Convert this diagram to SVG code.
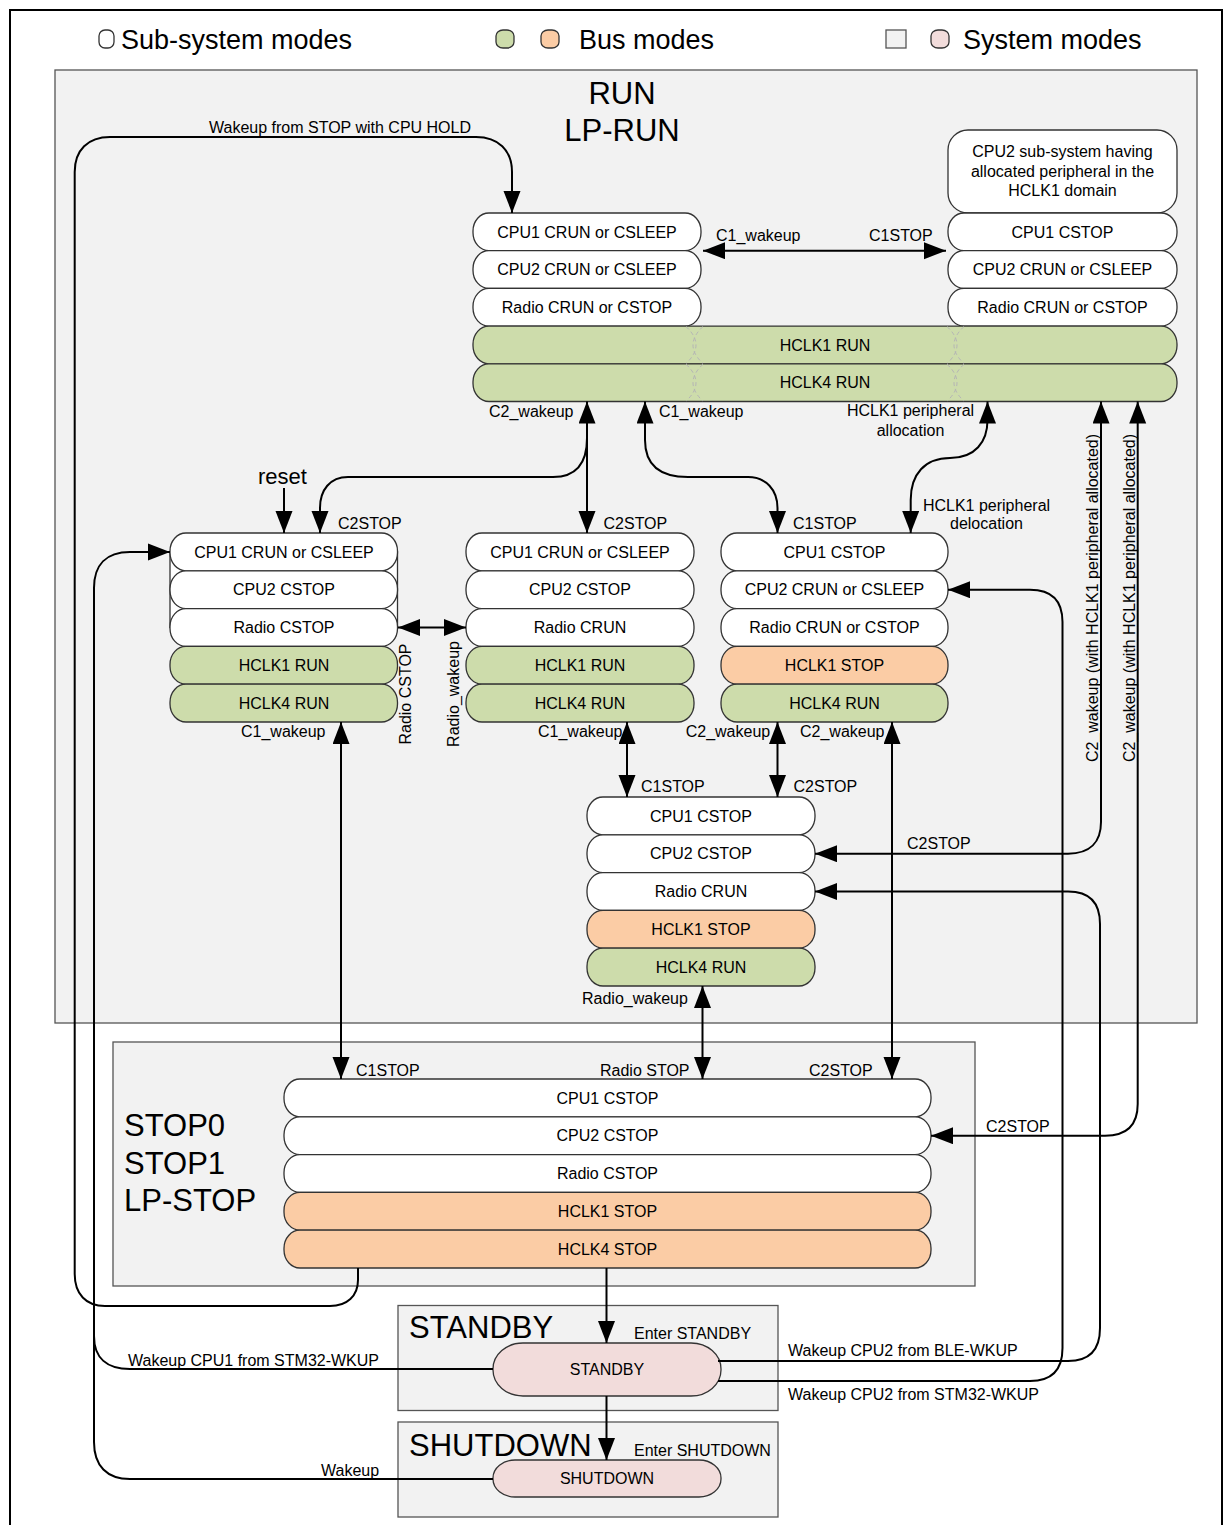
<svg xmlns="http://www.w3.org/2000/svg" width="1232" height="1525" viewBox="0 0 1232 1525">
<style>
text{font-family:"Liberation Sans",Arial,sans-serif;fill:#000}
.t{font-size:16px}
.tm{font-size:16px;text-anchor:middle}
.big{font-size:31px}
.leg{font-size:27px}
.sys{fill:#f2f2f2;stroke:#555;stroke-width:1.3}
.w{fill:#fff;stroke:#333;stroke-width:1.3}
.g{fill:#cddcab;stroke:#333;stroke-width:1.3}
.o{fill:#fbcca5;stroke:#333;stroke-width:1.3}
.p{fill:#f2dcdb;stroke:#333;stroke-width:1.3}
.c{fill:none;stroke:#000;stroke-width:2}
.dash{fill:none;stroke:#b5b5b5;stroke-width:1;stroke-dasharray:4 3}
</style>
<defs>
<marker id="ah" markerUnits="userSpaceOnUse" markerWidth="24" markerHeight="18" refX="22" refY="8.5" orient="auto-start-reverse">
<path d="M0,0 L22,8.5 L0,17 z" fill="#000"/>
</marker>
</defs>
<rect x="10" y="10" width="1212" height="1530" fill="#fff" stroke="#000" stroke-width="2"/>
<g id="legend">
<rect x="99" y="30" width="15" height="18" rx="6" ry="6" class="w"/>
<text x="121" y="48.5" class="leg">Sub-system modes</text>
<rect x="496" y="30" width="18" height="18" rx="7" ry="6" class="g"/>
<rect x="541" y="30" width="18" height="18" rx="7" ry="6" class="o"/>
<text x="579" y="48.5" class="leg">Bus modes</text>
<rect x="886" y="30" width="20" height="18" class="sys"/>
<rect x="931" y="30" width="18" height="18" rx="7" ry="6" class="p"/>
<text x="963" y="48.5" class="leg">System modes</text>
</g>
<g id="run">
<rect x="55" y="70" width="1142" height="953" class="sys"/>
<text x="622" y="104" class="big" text-anchor="middle">RUN</text>
<text x="622" y="141" class="big" text-anchor="middle">LP-RUN</text>
</g>
<g id="stop">
<rect x="113" y="1042" width="862" height="244" class="sys"/>
<text x="124" y="1136" class="big">STOP0</text>
<text x="124" y="1173.5" class="big">STOP1</text>
<text x="124" y="1211" class="big">LP-STOP</text>
</g>
<g id="standby-box">
<rect x="398" y="1305.5" width="380" height="105" class="sys"/>
<text x="409" y="1338" class="big">STANDBY</text>
<text x="634" y="1338.7" class="t">Enter STANDBY</text>
</g>
<g id="shutdown-box">
<rect x="398" y="1422" width="380" height="95" class="sys"/>
<text x="409" y="1455.5" class="big">SHUTDOWN</text>
<text x="634" y="1455.7" class="t">Enter SHUTDOWN</text>
</g>
<g id="stackA">
<rect x="473" y="213" width="228" height="37.7" rx="16" ry="18" class="w"/>
<text x="587" y="237.6" class="tm">CPU1 CRUN or CSLEEP</text>
<rect x="473" y="250.7" width="228" height="37.7" rx="16" ry="18" class="w"/>
<text x="587" y="275.3" class="tm">CPU2 CRUN or CSLEEP</text>
<rect x="473" y="288.4" width="228" height="37.7" rx="16" ry="18" class="w"/>
<text x="587" y="313" class="tm">Radio CRUN or CSTOP</text>
</g>
<g id="stackA2">
<rect x="948" y="130" width="229" height="83" rx="20" ry="20" class="w"/>
<text x="1062.5" y="157.4" class="tm">CPU2 sub-system having</text>
<text x="1062.5" y="177.4" class="tm">allocated peripheral in the</text>
<text x="1062.5" y="196.4" class="tm">HCLK1 domain</text>
<rect x="948" y="213" width="229" height="37.7" rx="16" ry="18" class="w"/>
<text x="1062.5" y="237.6" class="tm">CPU1 CSTOP</text>
<rect x="948" y="250.7" width="229" height="37.7" rx="16" ry="18" class="w"/>
<text x="1062.5" y="275.3" class="tm">CPU2 CRUN or CSLEEP</text>
<rect x="948" y="288.4" width="229" height="37.7" rx="16" ry="18" class="w"/>
<text x="1062.5" y="313" class="tm">Radio CRUN or CSTOP</text>
</g>
<g id="busA">
<rect x="473" y="326.1" width="704" height="37.7" rx="16" ry="18" class="g"/>
<text x="825" y="350.7" class="tm">HCLK1  RUN</text>
<rect x="473" y="363.8" width="704" height="37.7" rx="16" ry="18" class="g"/>
<text x="825" y="388.4" class="tm">HCLK4 RUN</text>
<path class="dash" d="M686,326.5 Q706,345 686,363.5 M686,364.2 Q706,382.7 686,401.1 M703,326.5 Q683,345 703,363.5 M703,364.2 Q683,382.7 703,401.1"/>
<path class="dash" d="M947,326.5 Q967,345 947,363.5 M947,364.2 Q967,382.7 947,401.1 M964,326.5 Q944,345 964,363.5 M964,364.2 Q944,382.7 964,401.1"/>
</g>
<g id="stackB">
<rect x="170" y="551.9" width="227.5" height="75.6" class="w"/>
<rect x="170" y="533" width="227.5" height="37.8" rx="16" ry="18" class="w"/>
<text x="284" y="557.6" class="tm">CPU1 CRUN or CSLEEP</text>
<rect x="170" y="570.8" width="227.5" height="37.8" rx="16" ry="18" class="w"/>
<text x="284" y="595.4" class="tm">CPU2 CSTOP</text>
<rect x="170" y="608.6" width="227.5" height="37.8" rx="16" ry="18" class="w"/>
<text x="284" y="633.2" class="tm">Radio CSTOP</text>
<rect x="170" y="646.4" width="227.5" height="37.8" rx="16" ry="18" class="g"/>
<text x="284" y="671" class="tm">HCLK1 RUN</text>
<rect x="170" y="684.2" width="227.5" height="37.8" rx="16" ry="18" class="g"/>
<text x="284" y="708.8" class="tm">HCLK4  RUN</text>
</g>
<g id="stackC">
<rect x="466" y="533" width="228" height="37.8" rx="16" ry="18" class="w"/>
<text x="580" y="557.6" class="tm">CPU1 CRUN or CSLEEP</text>
<rect x="466" y="570.8" width="228" height="37.8" rx="16" ry="18" class="w"/>
<text x="580" y="595.4" class="tm">CPU2 CSTOP</text>
<rect x="466" y="608.6" width="228" height="37.8" rx="16" ry="18" class="w"/>
<text x="580" y="633.2" class="tm">Radio CRUN</text>
<rect x="466" y="646.4" width="228" height="37.8" rx="16" ry="18" class="g"/>
<text x="580" y="671" class="tm">HCLK1 RUN</text>
<rect x="466" y="684.2" width="228" height="37.8" rx="16" ry="18" class="g"/>
<text x="580" y="708.8" class="tm">HCLK4 RUN</text>
</g>
<g id="stackD">
<rect x="721" y="533" width="227" height="37.8" rx="16" ry="18" class="w"/>
<text x="834.5" y="557.6" class="tm">CPU1 CSTOP</text>
<rect x="721" y="570.8" width="227" height="37.8" rx="16" ry="18" class="w"/>
<text x="834.5" y="595.4" class="tm">CPU2 CRUN or CSLEEP</text>
<rect x="721" y="608.6" width="227" height="37.8" rx="16" ry="18" class="w"/>
<text x="834.5" y="633.2" class="tm">Radio CRUN or CSTOP</text>
<rect x="721" y="646.4" width="227" height="37.8" rx="16" ry="18" class="o"/>
<text x="834.5" y="671" class="tm">HCLK1 STOP</text>
<rect x="721" y="684.2" width="227" height="37.8" rx="16" ry="18" class="g"/>
<text x="834.5" y="708.8" class="tm">HCLK4 RUN</text>
</g>
<g id="stackE">
<rect x="587" y="797" width="228" height="37.8" rx="16" ry="18" class="w"/>
<text x="701" y="821.6" class="tm">CPU1 CSTOP</text>
<rect x="587" y="834.8" width="228" height="37.8" rx="16" ry="18" class="w"/>
<text x="701" y="859.4" class="tm">CPU2 CSTOP</text>
<rect x="587" y="872.6" width="228" height="37.8" rx="16" ry="18" class="w"/>
<text x="701" y="897.2" class="tm">Radio CRUN</text>
<rect x="587" y="910.4" width="228" height="37.8" rx="16" ry="18" class="o"/>
<text x="701" y="935" class="tm">HCLK1 STOP</text>
<rect x="587" y="948.2" width="228" height="37.8" rx="16" ry="18" class="g"/>
<text x="701" y="972.8" class="tm">HCLK4 RUN</text>
</g>
<g id="stackF">
<rect x="284" y="1079" width="647" height="37.8" rx="16" ry="18" class="w"/>
<text x="607.5" y="1103.6" class="tm">CPU1 CSTOP</text>
<rect x="284" y="1116.8" width="647" height="37.8" rx="16" ry="18" class="w"/>
<text x="607.5" y="1141.4" class="tm">CPU2 CSTOP</text>
<rect x="284" y="1154.6" width="647" height="37.8" rx="16" ry="18" class="w"/>
<text x="607.5" y="1179.2" class="tm">Radio CSTOP</text>
<rect x="284" y="1192.4" width="647" height="37.8" rx="16" ry="18" class="o"/>
<text x="607.5" y="1217" class="tm">HCLK1 STOP</text>
<rect x="284" y="1230.2" width="647" height="37.8" rx="16" ry="18" class="o"/>
<text x="607.5" y="1254.8" class="tm">HCLK4 STOP</text>
</g>
<g id="standby">
<rect x="493" y="1343" width="228" height="53" rx="30" ry="26" class="p"/>
<text x="607" y="1375.2" class="tm">STANDBY</text>
</g>
<g id="shutdown">
<rect x="493" y="1460" width="228" height="37" rx="22" ry="18" class="p"/>
<text x="607" y="1484.2" class="tm">SHUTDOWN</text>
</g>
<g id="connectors">
<path class="c" d="M703,250.7 L946,250.7" marker-start="url(#ah)" marker-end="url(#ah)"/>
<path class="c" d="M587,401.5 L587,533" marker-start="url(#ah)" marker-end="url(#ah)"/>
<path class="c" d="M587,438 C587,463 576,477 553,477 L348,477 C330,477 320,490 320,508 L320,533" marker-end="url(#ah)"/>
<path class="c" d="M645,401.5 L645,440 C645,465 660,477 688,477 L748,477 C766,477 777.5,490 777.5,508 L777.5,533" marker-start="url(#ah)" marker-end="url(#ah)"/>
<path class="c" d="M987.5,401.5 L987.5,420 C987.5,442 975,458 950,458 C925,458 910.7,474 910.7,500 L910.7,533" marker-start="url(#ah)" marker-end="url(#ah)"/>
<path class="c" d="M1101,401.5 L1101,822 C1101,842 1090,853.7 1068,853.7 L815,853.7" marker-start="url(#ah)" marker-end="url(#ah)"/>
<path class="c" d="M1137.7,401.5 L1137.7,1104 C1137.7,1125 1127,1135.7 1105,1135.7 L931,1135.7" marker-start="url(#ah)" marker-end="url(#ah)"/>
<path class="c" d="M718,1361 L1068,1361 C1090,1361 1100,1350 1100,1328 L1100,924 C1100,903 1090,891.5 1068,891.5 L815,891.5" marker-end="url(#ah)"/>
<path class="c" d="M718,1381 L1030,1381 C1052,1381 1062.5,1370 1062.5,1348 L1062.5,622 C1062.5,601 1052,589.7 1030,589.7 L948,589.7" marker-end="url(#ah)"/>
<path class="c" d="M341,722 L341,1079" marker-start="url(#ah)" marker-end="url(#ah)"/>
<path class="c" d="M627,722 L627,797" marker-start="url(#ah)" marker-end="url(#ah)"/>
<path class="c" d="M777.5,722 L777.5,797" marker-start="url(#ah)" marker-end="url(#ah)"/>
<path class="c" d="M892,722 L892,1079" marker-start="url(#ah)" marker-end="url(#ah)"/>
<path class="c" d="M702.5,986 L702.5,1079" marker-start="url(#ah)" marker-end="url(#ah)"/>
<path class="c" d="M398,627.5 L466,627.5" marker-start="url(#ah)" marker-end="url(#ah)"/>
<path class="c" d="M284,488 L284,533" marker-end="url(#ah)"/>
<path class="c" d="M606.5,1268 L606.5,1343" marker-end="url(#ah)"/>
<path class="c" d="M606.5,1396 L606.5,1460" marker-end="url(#ah)"/>
<path class="c" d="M358,1268 L358,1280 C358,1296 347,1306 330,1306 L105,1306 C86,1306 74.7,1294 74.7,1274 L74.7,172 C74.7,150 88,137 110,137 L476,137 C498,137 512,150 512,172 L512,213" marker-end="url(#ah)"/>
<path class="c" d="M493,1479 L130,1479 C107,1479 94,1466 94,1442 L94,588 C94,565 106,551.9 130,551.9 L170,551.9" marker-end="url(#ah)"/>
<path class="c" d="M493,1369 L130,1369 C107,1369 94,1358 94,1336"/>
</g>
<g id="labels">
<text x="209" y="132.7" class="t">Wakeup from STOP with CPU HOLD</text>
<text x="716" y="240.7" class="t">C1_wakeup</text>
<text x="869" y="240.7" class="t">C1STOP</text>
<text x="489" y="416.7" class="t">C2_wakeup</text>
<text x="659" y="416.7" class="t">C1_wakeup</text>
<text x="910.5" y="415.7" class="tm">HCLK1 peripheral</text>
<text x="910.5" y="435.7" class="tm">allocation</text>
<text x="258" y="484" style="font-size:22px">reset</text>
<text x="338" y="528.7" class="t">C2STOP</text>
<text x="603.5" y="528.7" class="t">C2STOP</text>
<text x="793" y="528.7" class="t">C1STOP</text>
<text x="986.5" y="510.7" class="tm">HCLK1 peripheral</text>
<text x="986.5" y="528.7" class="tm">delocation</text>
<text x="241" y="737.4" class="t">C1_wakeup</text>
<text x="538" y="737.4" class="t">C1_wakeup</text>
<text x="685.7" y="737.4" class="t">C2_wakeup</text>
<text x="800" y="737.4" class="t">C2_wakeup</text>
<text transform="translate(411.4,694) rotate(-90)" class="tm">Radio CSTOP</text>
<text transform="translate(458.7,694) rotate(-90)" class="tm">Radio_wakeup</text>
<text transform="translate(1097.5,598) rotate(-90)" class="tm">C2_wakeup (with HCLK1 peripheral allocated)</text>
<text transform="translate(1134.5,598) rotate(-90)" class="tm">C2_wakeup (with HCLK1 peripheral allocated)</text>
<text x="641" y="791.7" class="t">C1STOP</text>
<text x="793.5" y="791.7" class="t">C2STOP</text>
<text x="907" y="848.7" class="t">C2STOP</text>
<text x="582" y="1003.7" class="t">Radio_wakeup</text>
<text x="356" y="1075.7" class="t">C1STOP</text>
<text x="600" y="1075.7" class="t">Radio STOP</text>
<text x="809" y="1075.7" class="t">C2STOP</text>
<text x="986" y="1131.7" class="t">C2STOP</text>
<text x="128" y="1365.7" class="t">Wakeup CPU1 from STM32-WKUP</text>
<text x="788" y="1356.4" class="t">Wakeup CPU2 from BLE-WKUP</text>
<text x="788" y="1399.7" class="t">Wakeup CPU2 from STM32-WKUP</text>
<text x="321" y="1475.7" class="t">Wakeup</text>
</g>
</svg>
